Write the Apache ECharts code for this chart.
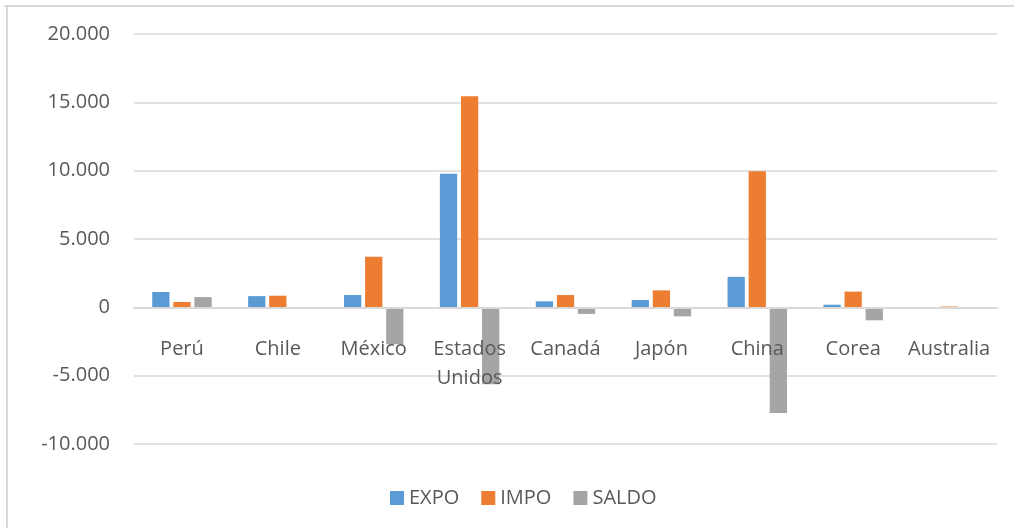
<!DOCTYPE html>
<html>
<head>
<meta charset="utf-8">
<script src="https://cdn.jsdelivr.net/npm/echarts@6/dist/echarts.min.js"></script>
<style>
html,body{margin:0;padding:0;background:#fff;}
#c{width:1014px;height:528px;}
</style>
</head>
<body>
<div id="c"></div>
<script>
const categories = ["Perú", "Chile", "México", "Estados\nUnidos", "Canadá", "Japón", "China", "Corea", "Australia"];
const expo  = [1120, 820, 900, 9780, 440, 540, 2230, 190, 10];
const impo  = [390, 850, 3700, 15450, 900, 1240, 9950, 1150, 60];
const saldo = [750, -30, -2700, -5620, -480, -660, -7740, -950, -50];
const yTicks = { min: -10000, max: 20000, interval: 5000 };

function fmt(v){
  const s = Math.abs(v).toString().replace(/\B(?=(\d{3})+(?!\d))/g, ".");
  return (v < 0 ? "-" : "") + s;
}

const chart = echarts.init(document.getElementById('c'));
const font = "'Open Sans', 'Noto Sans', sans-serif";
const gridTop = 34, gridBottom = 84, H = 528;
const plotH = H - gridTop - gridBottom;
const zeroFromBottom = plotH * (0 - yTicks.min) / (yTicks.max - yTicks.min);

chart.setOption({
  animation: false,
  textStyle: { fontFamily: font },
  color: ["#5B9BD5", "#ED7D31", "#A5A5A5"],
  grid: { left: 134, right: 17, top: gridTop, bottom: gridBottom, containLabel: false },
  legend: {
    top: 483, left: 385,
    itemWidth: 14, itemHeight: 14, itemGap: 22,
    icon: 'rect',
    textStyle: { fontSize: 20, color: '#595959', fontFamily: font },
    data: ["EXPO", "IMPO", "SALDO"]
  },
  xAxis: {
    type: 'category',
    position: 'bottom',
    offset: -zeroFromBottom,
    z: 5,
    data: categories,
    axisLine: { onZero: false, lineStyle: { color: '#d9d9d9', width: 2 } },
    axisTick: { show: false },
    axisLabel: { fontSize: 20, color: '#595959', margin: 27, interval: 0, lineHeight: 29, fontFamily: font }
  },
  yAxis: {
    type: 'value',
    min: yTicks.min, max: yTicks.max, interval: yTicks.interval,
    axisLine: { show: false },
    axisTick: { show: false },
    splitLine: { lineStyle: { color: '#d9d9d9', width: 1.5 } },
    axisLabel: { fontSize: 20, color: '#595959', margin: 24, formatter: fmt, fontFamily: font }
  },
  graphic: [
    { type: 'line', shape: { x1: 4, y1: 6, x2: 1014, y2: 6 }, style: { stroke: '#d9d9d9', lineWidth: 2 } },
    { type: 'line', shape: { x1: 7, y1: 6, x2: 7, y2: 528 }, style: { stroke: '#d9d9d9', lineWidth: 2 } }
  ],
  series: [
    { name: "EXPO", type: 'bar', data: expo, barGap: '22%', barCategoryGap: '38%', z: 2 },
    { name: "IMPO", type: 'bar', data: impo, barGap: '22%', barCategoryGap: '38%', z: 2 },
    { name: "SALDO", type: 'bar', data: saldo, barGap: '22%', barCategoryGap: '38%', z: 2 }
  ]
});
</script>
</body>
</html>
